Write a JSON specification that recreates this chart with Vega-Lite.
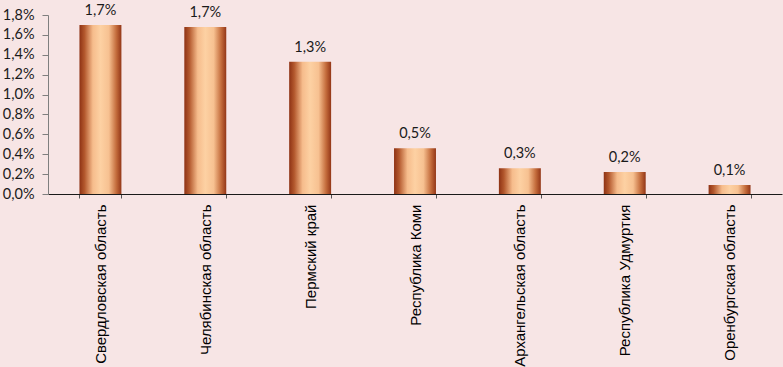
{
  "$schema": "https://vega.github.io/schema/vega-lite/v6.json",
  "width": 734,
  "height": 179,
  "autosize": "none",
  "padding": {"left": 48, "top": 15, "right": 1, "bottom": 173},
  "background": "#f7e5e5",
  "config": {
    "locale": {"number": {"decimal": ",", "thousands": " ", "grouping": [3], "currency": ["", " ₽"]}},
    "view": {"stroke": null},
    "axis": {"grid": false}
  },
  "data": {
    "values": [
      {"region": "Свердловская область", "share": 0.0170},
      {"region": "Челябинская область", "share": 0.0168},
      {"region": "Пермский край", "share": 0.0133},
      {"region": "Республика Коми", "share": 0.0046},
      {"region": "Архангельская область", "share": 0.0026},
      {"region": "Республика Удмуртия", "share": 0.0022},
      {"region": "Оренбургская область", "share": 0.0009}
    ]
  },
  "encoding": {
    "x": {
      "field": "region", "type": "nominal", "sort": null,
      "scale": {"paddingInner": 0.6, "paddingOuter": 0.3},
      "axis": {
        "title": null, "labelAngle": -90, "labelAlign": "right", "labelBaseline": "middle",
        "tickBand": "extent", "tickSize": 4, "labelPadding": 6,
        "domainColor": "#1a1a1a", "tickColor": "#555555",
        "labelFont": "Liberation Sans", "labelFontSize": 15, "labelColor": "#000000", "labelLimit": 300
      }
    },
    "y": {
      "field": "share", "type": "quantitative",
      "scale": {"domain": [0, 0.018], "nice": false},
      "axis": {
        "title": null, "format": ".1%", "values": [0, 0.002, 0.004, 0.006, 0.008, 0.01, 0.012, 0.014, 0.016, 0.018],
        "tickSize": 6, "labelPadding": 8, "domainColor": "#7f7f7f", "tickColor": "#7f7f7f",
        "labelFont": "Lato", "labelFontSize": 14.5, "labelColor": "#1a1a1a"
      }
    }
  },
  "layer": [
    {
      "mark": {
        "type": "bar",
        "color": {
          "gradient": "linear", "x1": 0, "x2": 1, "y1": 0, "y2": 0,
          "stops": [
            {"offset": 0, "color": "#8e3214"},
            {"offset": 0.12, "color": "#b3582d"},
            {"offset": 0.32, "color": "#f6bc8c"},
            {"offset": 0.5, "color": "#fdd1a3"},
            {"offset": 0.7, "color": "#f7c191"},
            {"offset": 0.88, "color": "#c36b3b"},
            {"offset": 1, "color": "#933617"}
          ]
        }
      }
    },
    {
      "mark": {"type": "text", "baseline": "bottom", "dy": -7, "font": "Lato", "fontSize": 14.5, "color": "#1a1a1a"},
      "encoding": {"text": {"field": "share", "type": "quantitative", "format": ".1%"}}
    }
  ]
}
